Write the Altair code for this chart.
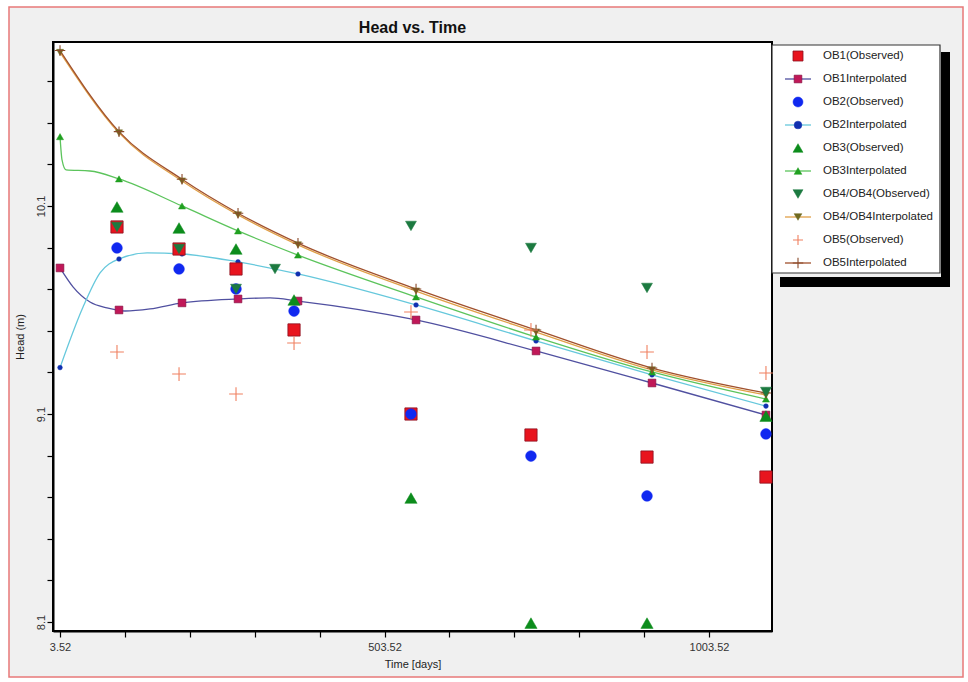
import altair as alt
import pandas as pd

# ---------------- data ----------------
obs_t = [91.3, 186.9, 274.7, 364.1, 544.3, 729.2, 908.0, 1091.3]
ob1_obs = [9.999, 9.893, 9.797, 9.504, 9.100, 8.999, 8.893, 8.797]
ob2_obs = [9.898, 9.797, 9.701, 9.595, 9.100, 8.898, 8.706, 9.004]
ob3_obs = [10.095, 9.994, 9.893, 9.648, 8.696, 8.095, 8.095, 9.090]
ob4_obs_t = [91.3, 186.9, 274.7, 334.8, 544.3, 729.2, 908.0, 1091.3]
ob4_obs = [9.999, 9.893, 9.701, 9.797, 10.004, 9.898, 9.706, 9.206]
ob5_obs = [9.398, 9.292, 9.196, 9.441, 9.590, 9.504, 9.398, 9.297]

int_t = [3.52, 94.4, 191.5, 277.8, 370.2, 552.1, 737.0, 915.7, 1091.3]
ob1_int = [9.802, 9.600, 9.634, 9.653, 9.643, 9.552, 9.403, 9.249, 9.095]
ob2_int = [9.323, 9.845, 9.869, 9.831, 9.773, 9.624, 9.451, 9.288, 9.138]
ob3_int = [10.433, 10.230, 10.100, 9.980, 9.864, 9.663, 9.470, 9.302, 9.172]
ob4_int = [10.838, 10.451, 10.220, 10.057, 9.913, 9.691, 9.494, 9.312, 9.191]
ob5_int = [10.847, 10.457, 10.228, 10.065, 9.921, 9.701, 9.504, 9.321, 9.201]

# simulated head curves (denser where the curve bends)
ob1_line_t = [3.52, 23.5, 49.7, 75.9, 103.7, 142.2, 191.5, 277.8, 327.1, 370.2, 552.1, 737.0, 915.7, 1091.3]
ob1_line_v = [9.802, 9.711, 9.638, 9.610, 9.595, 9.605, 9.634, 9.653, 9.658, 9.643, 9.552, 9.403, 9.249, 9.095]
ob2_line_t = [3.52, 39.0, 65.2, 94.4, 137.6, 191.5, 277.8, 370.2, 552.1, 737.0, 915.7, 1091.3]
ob2_line_v = [9.323, 9.614, 9.778, 9.845, 9.874, 9.869, 9.831, 9.773, 9.624, 9.451, 9.288, 9.138]
ob3_line_t = [3.52, 6.6, 12.8, 49.7, 94.4, 191.5, 277.8, 370.2, 552.1, 737.0, 915.7, 1091.3]
ob3_line_v = [10.433, 10.321, 10.273, 10.268, 10.230, 10.100, 9.980, 9.864, 9.663, 9.470, 9.302, 9.172]
ob4_line_t = int_t
ob4_line_v = ob4_int
ob5_line_t = int_t
ob5_line_v = ob5_int

legend_labels = ["OB1(Observed)", "OB1Interpolated", "OB2(Observed)", "OB2Interpolated",
                 "OB3(Observed)", "OB3Interpolated", "OB4/OB4(Observed)", "OB4/OB4Interpolated",
                 "OB5(Observed)", "OB5Interpolated"]

chart_title = "Head vs. Time"
x_ticks = [3.52 + 100 * k for k in range(11)]
x_labels = ["3.52", "503.52", "1003.52"]
y_ticks = [round(8.1 + 0.2 * k, 1) for k in range(14)]
y_labels = ["8.1", "9.1", "10.1"]

# ---------------- styles ----------------
W, H = 719, 589
FONT = "Liberation Sans Narrow, Liberation Sans, Arial, sans-serif"
PLUS = "M-1,0H1M0,-1V1"

sty = {
    "OB1(Observed)": dict(shape="square", size=150, filled=True, fill="#e8141e", stroke="#8a1020", strokeWidth=0.8),
    "OB1Interpolated": dict(shape="square", size=60, filled=True, fill="#c01858", stroke="#801040", strokeWidth=0.6),
    "OB2(Observed)": dict(shape="circle", size=115, filled=True, fill="#1028f0", stroke="#1028f0", strokeWidth=0.5),
    "OB2Interpolated": dict(shape="circle", size=22, filled=True, fill="#1030b0", stroke="#1030b0", strokeWidth=0.5),
    "OB3(Observed)": dict(shape="triangle-up", size=150, filled=True, fill="#0c8c1c", stroke="#0c8c1c", strokeWidth=0.5),
    "OB3Interpolated": dict(shape="triangle-up", size=50, filled=True, fill="#20a020", stroke="#20a020", strokeWidth=0.5),
    "OB4/OB4(Observed)": dict(shape="triangle-down", size=120, filled=True, fill="#1c7a40", stroke="#1c7a40", strokeWidth=0.5),
    "OB4/OB4Interpolated": dict(shape="triangle-down", size=50, filled=True, fill="#706a20", stroke="#706a20", strokeWidth=0.5),
    "OB5(Observed)": dict(shape=PLUS, size=190, filled=False, stroke="#f08060", strokeWidth=1.1),
    "OB5Interpolated": dict(shape=PLUS, size=110, filled=False, stroke="#8a4a2a", strokeWidth=1.1),
}
line_col = {
    "OB1Interpolated": "#5050a0",
    "OB2Interpolated": "#66c8dc",
    "OB3Interpolated": "#5cc45c",
    "OB4/OB4Interpolated": "#e0a048",
    "OB5Interpolated": "#a0502c",
}

X = alt.X("t:Q", title="Time  [days]",
          scale=alt.Scale(domain=[-7.3, 1100.6], nice=False, zero=False),
          axis=alt.Axis(values=x_ticks,
                        labelExpr="indexof(%s, format(datum.value, '.2f')) >= 0 ? format(datum.value, '.2f') : ''" % str(x_labels),
                        grid=False, tickSize=6, tickColor="black", tickWidth=1.2,
                        domainColor="black", domainWidth=2, labelFontSize=11, labelColor="#333",
                        labelFont=FONT, labelPadding=4, titleFont=FONT, titleFontSize=11,
                        titleFontWeight="normal", titleColor="#222", titlePadding=6, zindex=1,
                        labelFlush=False, labelOverlap=False))
Y = alt.Y("v:Q", title="Head (m)",
          scale=alt.Scale(domain=[8.057, 10.888], nice=False, zero=False),
          axis=alt.Axis(values=y_ticks,
                        labelExpr="indexof(%s, format(datum.value, '.1f')) >= 0 ? format(datum.value, '.1f') : ''" % str(y_labels),
                        grid=False, tickSize=6, tickColor="black", tickWidth=1.2,
                        domainColor="black", domainWidth=2, labelFontSize=11, labelColor="#333",
                        labelFont=FONT, labelAngle=270, labelAlign="center", labelBaseline="bottom",
                        labelPadding=1, titleFont=FONT, titleFontSize=11, titleFontWeight="normal",
                        titleColor="#222", titlePadding=10, zindex=1, labelFlush=False, labelOverlap=False))

one = pd.DataFrame({"a": [0]})
layers = []

# outer gray frame with red border, and white plot area
layers.append(alt.Chart(one).mark_rect(fill="#f0f0f0", stroke="#e87878", strokeWidth=1.5).encode(
    x=alt.value(-44), x2=alt.value(910), y=alt.value(-35), y2=alt.value(635)))
layers.append(alt.Chart(one).mark_rect(fill="white", stroke="black", strokeWidth=2).encode(
    x=alt.value(0), x2=alt.value(W), y=alt.value(0), y2=alt.value(H)))
layers.append(alt.Chart(one).mark_text(text=chart_title, font=FONT, fontSize=16, fontWeight="bold",
                                       color="#111", align="center", baseline="middle").encode(
    x=alt.value(W / 2), y=alt.value(-14)))

lines = [
    ("OB1Interpolated", ob1_line_t, ob1_line_v),
    ("OB2Interpolated", ob2_line_t, ob2_line_v),
    ("OB3Interpolated", ob3_line_t, ob3_line_v),
    ("OB4/OB4Interpolated", ob4_line_t, ob4_line_v),
    ("OB5Interpolated", ob5_line_t, ob5_line_v),
]
for name, t, v in lines:
    layers.append(alt.Chart(pd.DataFrame({"t": t, "v": v})).mark_line(
        color=line_col[name], strokeWidth=1.3, interpolate="monotone").encode(x=X, y=Y))

markers = [
    ("OB1Interpolated", int_t, ob1_int),
    ("OB2Interpolated", int_t, ob2_int),
    ("OB3Interpolated", int_t, ob3_int),
    ("OB4/OB4Interpolated", int_t, ob4_int),
    ("OB5Interpolated", int_t, ob5_int),
    ("OB1(Observed)", obs_t, ob1_obs),
    ("OB2(Observed)", obs_t, ob2_obs),
    ("OB3(Observed)", obs_t, ob3_obs),
    ("OB4/OB4(Observed)", ob4_obs_t, ob4_obs),
    ("OB5(Observed)", obs_t, ob5_obs),
]
for name, t, v in markers:
    layers.append(alt.Chart(pd.DataFrame({"t": t, "v": v})).mark_point(opacity=1, **sty[name]).encode(x=X, y=Y))

# legend box with shadow
layers.append(alt.Chart(one).mark_rect(fill="black").encode(
    x=alt.value(888), x2=alt.value(897), y=alt.value(10), y2=alt.value(245)))
layers.append(alt.Chart(one).mark_rect(fill="black").encode(
    x=alt.value(727), x2=alt.value(897), y=alt.value(235), y2=alt.value(245)))
layers.append(alt.Chart(one).mark_rect(fill="white", stroke="#333", strokeWidth=1.2).encode(
    x=alt.value(719), x2=alt.value(887), y=alt.value(3), y2=alt.value(231)))

for i, name in enumerate(legend_labels):
    ly = 14 + 23 * i
    if name in line_col:
        layers.append(alt.Chart(one).mark_rule(color=line_col[name], strokeWidth=1.3).encode(
            x=alt.value(732), x2=alt.value(758), y=alt.value(ly)))
    s = dict(sty[name])
    if name.endswith("(Observed)"):
        s["size"] = min(s["size"], 100)
    else:
        s["size"] = max(s["size"], 60)
    layers.append(alt.Chart(one).mark_point(opacity=1, **s).encode(x=alt.value(745), y=alt.value(ly)))
    layers.append(alt.Chart(one).mark_text(text=name, align="left", baseline="middle", font=FONT,
                                           fontSize=11.5, color="#222").encode(
        x=alt.value(770), y=alt.value(ly)))

chart = alt.layer(*layers).properties(
    width=W, height=H,
    autosize=alt.AutoSizeParams(type="none"),
    padding={"left": 53, "top": 42, "right": 196, "bottom": 51},
).configure(background="white").configure_view(stroke=None)

chart.save("out.html", embed_options={"renderer": "svg", "actions": False})
